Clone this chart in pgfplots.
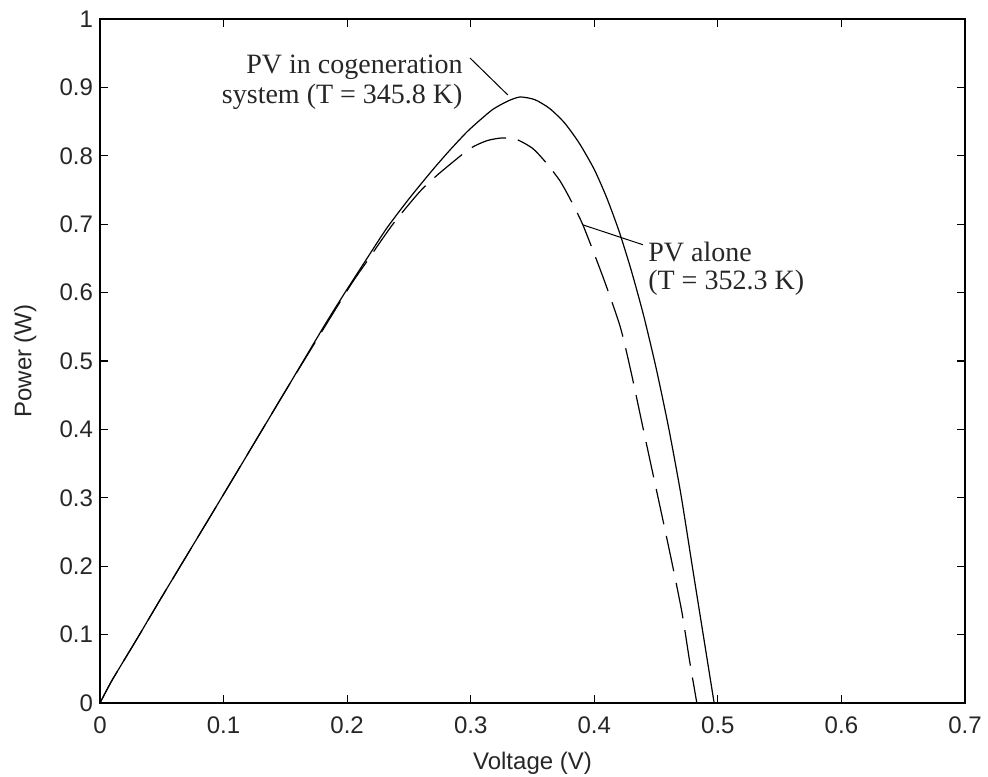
\documentclass[border=0pt]{standalone}
\usepackage{fontspec}
\setmainfont{Liberation Sans}
\newfontfamily\timesfont{Liberation Serif}
\usepackage{pgfplots}
\pgfplotsset{compat=1.18}
\begin{document}
\begin{tikzpicture}
\useasboundingbox (-50pt,-36.5pt) rectangle (444pt,351.5pt);
\begin{axis}[
  at={(0,0)}, anchor=south west,
  scale only axis, width=432.5pt, height=342pt,
  xmin=0, xmax=0.7, ymin=0, ymax=1,
  xtick={0,0.1,0.2,0.3,0.4,0.5,0.6,0.7},
  ytick={0,0.1,0.2,0.3,0.4,0.5,0.6,0.7,0.8,0.9,1},
  tick align=inside, major tick length=4pt,
  xtick pos=both, ytick pos=both,
  /pgf/number format/assume math mode=true,
  tick label style={font=\fontsize{12}{14}\selectfont, text=black!85},
  xticklabel style={yshift=-3.5pt},
  axis line style={line width=0.6pt},
  every tick/.style={line width=0.6pt, black},
  xlabel={Voltage (V)}, ylabel={Power (W)},
  label style={font=\fontsize{12}{14}\selectfont, text=black!85},
  xlabel style={at={(axis description cs:0.5,0)}, anchor=north, yshift=-21pt},
  ylabel style={at={(axis description cs:0,0.5)}, anchor=north, yshift=46.5pt},
  clip=false,
]
% PV in cogeneration system (solid)
\addplot[black, line width=0.6pt, smooth, tension=0.4] coordinates {
(0,0) (0.01,0.034) (0.03,0.094) (0.05,0.155) (0.1,0.305) (0.15,0.456)
(0.183,0.556) (0.2,0.605) (0.215,0.647) (0.232,0.694) (0.25,0.737)
(0.269,0.779) (0.283,0.808) (0.297,0.835) (0.308,0.853) (0.318,0.868)
(0.330,0.880) (0.340,0.886) (0.352,0.882) (0.364,0.869) (0.376,0.848)
(0.388,0.818) (0.400,0.780) (0.410,0.739) (0.420,0.690) (0.430,0.632)
(0.440,0.566) (0.450,0.490) (0.460,0.404) (0.470,0.306) (0.480,0.192)
(0.490,0.079) (0.497,0)
};
% PV alone (dashed)
\addplot[black, line width=0.6pt, dash pattern=on 18pt off 6pt, smooth, tension=0.4] coordinates {
(0,0) (0.01,0.034) (0.03,0.094) (0.05,0.155) (0.1,0.305) (0.15,0.456)
(0.2,0.603) (0.215,0.643) (0.237,0.700) (0.259,0.748) (0.275,0.775)
(0.299,0.810) (0.313,0.822) (0.325,0.826) (0.337,0.824) (0.350,0.811)
(0.360,0.792) (0.372,0.764) (0.381,0.735) (0.391,0.698) (0.407,0.623)
(0.421,0.550) (0.430,0.482) (0.441,0.389) (0.455,0.272) (0.463,0.204)
(0.471,0.132) (0.477,0.063) (0.483,0)
};
\draw[black, line width=0.5pt] (axis cs:0.2994,0.943) -- (axis cs:0.330,0.889);
\draw[black, line width=0.5pt] (axis cs:0.4393,0.670) -- (axis cs:0.3908,0.699);
\node[anchor=east, align=right, inner sep=0pt, text=black!85,
  font=\timesfont\fontsize{14}{15}\selectfont] at (axis cs:0.2937,0.908)
  {PV in cogeneration\\system (T = 345.8 K)};
\node[anchor=west, align=left, inner sep=0pt, text=black!85,
  font=\timesfont\fontsize{14}{14}\selectfont] at (axis cs:0.4434,0.635)
  {PV alone\\(T = 352.3 K)};
\end{axis}
\end{tikzpicture}
\end{document}
